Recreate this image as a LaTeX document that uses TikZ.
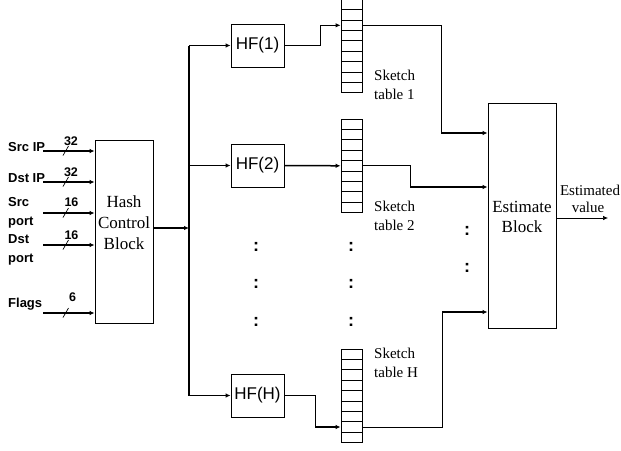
\documentclass[tikz,border=0pt]{standalone}
\usepackage{fontspec}
\setmainfont{Liberation Serif}
\setsansfont{Liberation Sans}
\usetikzlibrary{arrows.meta}
\begin{document}
\begin{tikzpicture}[x=1pt,y=-1pt,
  thinln/.style={line width=0.7pt},
  thickln/.style={line width=1.5pt},
  arr/.style={-{Latex[length=5pt,width=4.5pt]}},
  blk/.style={draw, line width=0.8pt, inner sep=0},
  hfbox/.style={blk, minimum width=53pt, minimum height=43pt, font=\sffamily\fontsize{17}{17}\selectfont},
  cell/.style={draw, line width=0.8pt, minimum width=21pt, minimum height=10.4pt, inner sep=0},
  inlab/.style={inner sep=0, align=left, anchor=west, font=\sffamily\bfseries\fontsize{13}{19}\selectfont},
  bits/.style={inner sep=0, font=\sffamily\bfseries\fontsize{12.5}{12.5}\selectfont},
  serlab/.style={inner sep=0, align=center, font=\fontsize{17}{21}\selectfont},
  sklab/.style={inner sep=0, align=left, anchor=west, font=\fontsize{15}{19}\selectfont},
  dots/.style={inner sep=0, font=\sffamily\bfseries\fontsize{18}{18}\selectfont}
]
\useasboundingbox (0,0) rectangle (621,450);

% Hash control block
\node[blk, minimum width=58pt, minimum height=183pt] (hash) at (124,231.5) {};
\node[serlab] (hashtxt) at (124,223) {Hash\\Control\\Block};

% Estimate block
\node[blk, minimum width=68pt, minimum height=225pt] (est) at (522,215.5) {};
\node[serlab, font=\fontsize{17}{20}\selectfont] (esttxt) at (522,217) {Estimate\\Block};

% Inputs
\node[inlab] (l1) at (8,147) {Src IP};
\node[inlab] (l2) at (8,178) {Dst IP};
\node[inlab] (l3) at (8,212.5) {Src\\port};
\node[inlab] (l4) at (8,249.5) {Dst\\port};
\node[inlab] (l5) at (8,304) {Flags};
\coordinate (i1) at (43,151);
\coordinate (i2) at (43,182);
\coordinate (i3) at (43,213);
\coordinate (i4) at (43,245);
\coordinate (i5) at (43,313);
\foreach \i in {1,...,5}{
  \draw[thickln, arr] (i\i) -- (i\i -| hash.west);
  \draw[thinln] ([shift={(20,4.5)}]i\i) -- ++(5.5,-9.5);
}
\node[bits] (b1) at (71,141) {32};
\node[bits] (b2) at (71,172) {32};
\node[bits] (b3) at (71.5,202) {16};
\node[bits] (b4) at (71.5,235) {16};
\node[bits] (b5) at (72.5,297) {6};

% Hash functions
\node[hfbox] (hf1) at (257.5,45.5) {HF(1)};
\node[hfbox] (hf2) at (257.5,165.5) {HF(2)};
\node[hfbox] (hfH) at (257.5,395.5) {HF(H)};

% Bus
\coordinate (busm) at (189,228);
\draw[thickln, arr] (hash.east |- busm) -- (busm);
\draw[thickln] (hf1.west -| busm) -- (hfH.west -| busm);
\draw[thickln, arr] (hf1.west -| busm) -- (hf1.west);
\draw[thickln, arr] (hf2.west -| busm) -- (hf2.west);
\draw[thickln, arr] (hfH.west -| busm) -- (hfH.west);

% Sketch tables
\foreach \k in {1,...,9}{
  \node[cell] (t1-\k) at (351.5,{-0.6+10.37*(\k-0.5)}) {};
  \node[cell] (t2-\k) at (351.5,{119+10.4*(\k-0.5)}) {};
  \node[cell] (tH-\k) at (351.5,{349+10.4*(\k-0.5)}) {};
}
\node[sklab] (s1) at (374,84.5) {Sketch\\table 1};
\node[sklab] (s2) at (374,216) {Sketch\\table 2};
\node[sklab] (sH) at (374,363) {Sketch\\table H};

% HF to tables
\coordinate (k1) at (320,45.5);
\draw[thinln] (hf1.east) -- (k1) -- (k1 |- t1-3.west);
\draw[thickln, arr] (k1 |- t1-3.west) -- (t1-3.west);
\draw[thickln, arr] (hf2.east) -- (t2-5.west);
\coordinate (kH) at (315,395.5);
\draw[thinln] (hfH.east) -- (kH) -- (kH |- tH-8.west);
\draw[thickln, arr] (kH |- tH-8.west) -- (tH-8.west);

% Tables to estimate block
\coordinate (j1) at (441,133);
\coordinate (j2) at (410,187);
\coordinate (j3) at (442,312);
\draw[thinln] (t1-3.east) -- (t1-3.east -| j1) -- (j1);
\draw[thickln, arr] (j1) -- (j1 -| est.west);
\draw[thinln] (t2-5.east) -- (t2-5.east -| j2) -- (j2);
\draw[thickln, arr] (j2) -- (j2 -| est.west);
\draw[thinln] (tH-8.east) -- (tH-8.east -| j3) -- (j3);
\draw[thickln, arr] (j3) -- (j3 -| est.west);

% Output
\coordinate (outp) at (608,218);
\draw[thinln, arr] (est.east |- outp) -- (outp);
\node[inner sep=0, font=\fontsize{15}{17}\selectfont] (ev1) at (590,190) {Estimated};
\node[inner sep=0, font=\fontsize{15}{17}\selectfont] (ev2) at (588,207) {value};

% Dots
\foreach \yy [count=\n] in {247,284,322}{
  \node[dots] (da\n) at (256,\yy) {:};
  \node[dots] (db\n) at (351,\yy) {:};
}
\node[dots] (dc1) at (467,231) {:};
\node[dots] (dc2) at (467,268) {:};
\end{tikzpicture}
\end{document}
